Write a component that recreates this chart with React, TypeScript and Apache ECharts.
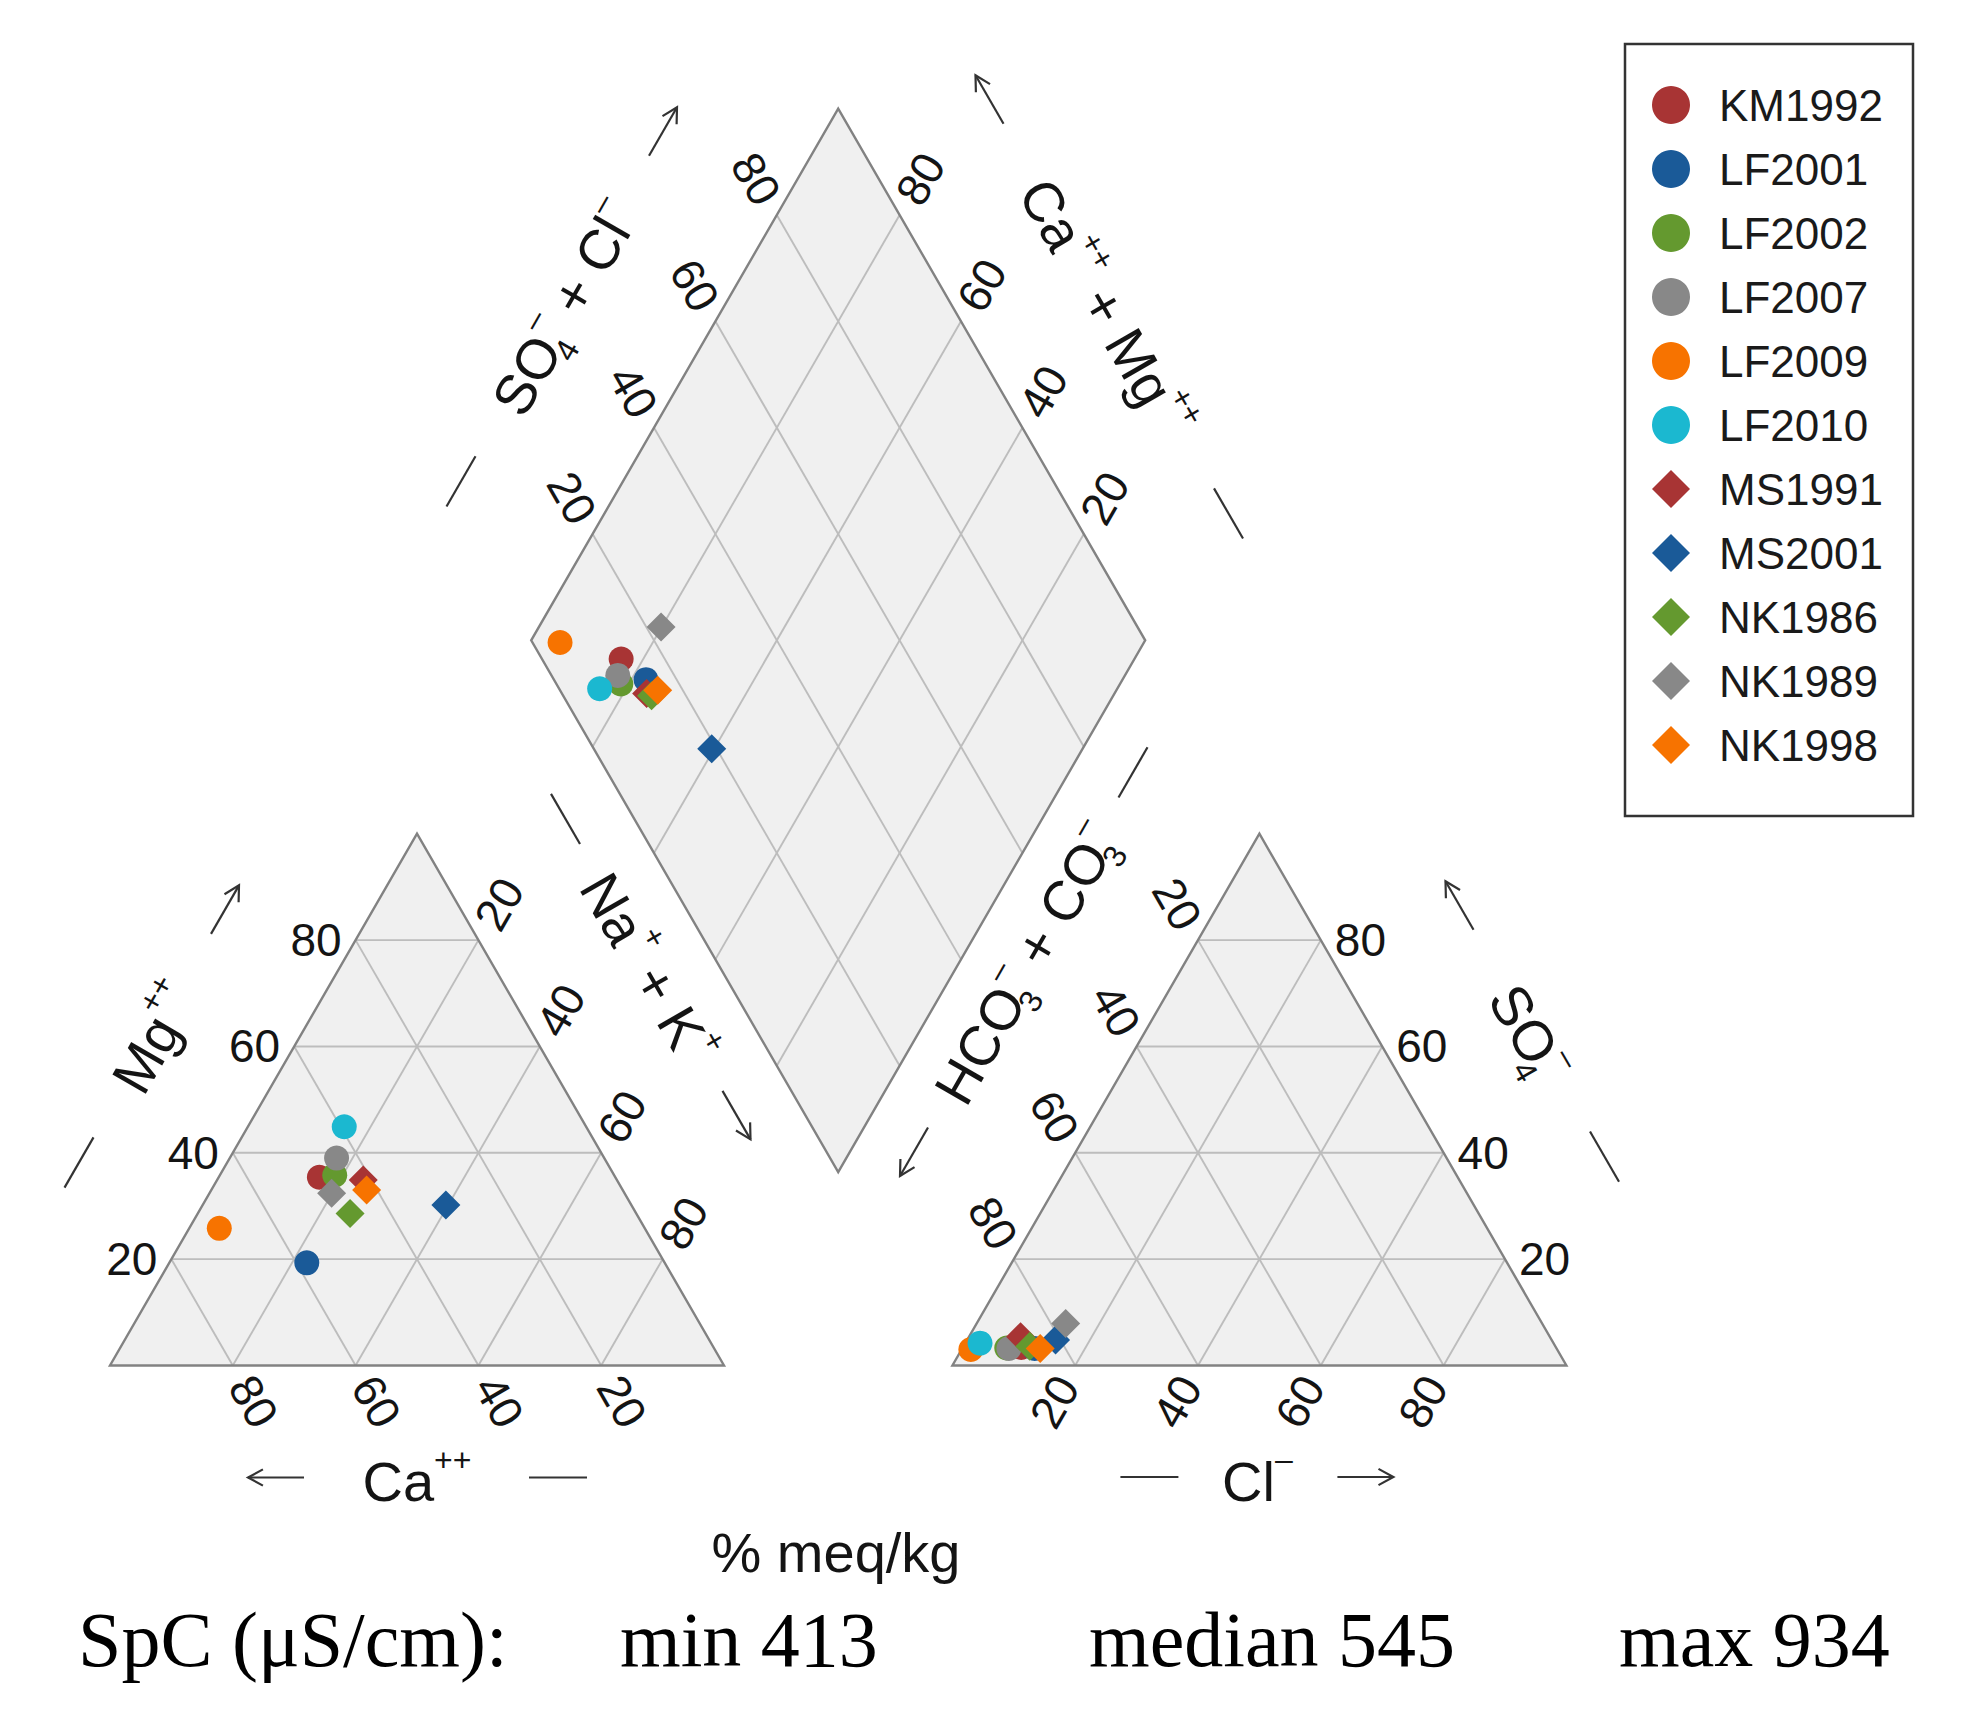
import React, { useEffect, useRef } from "react";
import * as echarts from "echarts";

// ---------- data (% meq/kg) ----------
const SAMPLES = ["KM1992", "LF2001", "LF2002", "LF2007", "LF2009", "LF2010", "MS1991", "MS2001", "NK1986", "NK1989", "NK1998"];
const SYMBOLS = ["circle", "circle", "circle", "circle", "circle", "circle", "diamond", "diamond", "diamond", "diamond", "diamond"];
const COLORS = ["#A83434", "#1A5A98", "#64992F", "#888888", "#F77300", "#1BB8D0", "#A83434", "#1A5A98", "#64992F", "#888888", "#F77300"];
// cations
const CA = [48.2, 58.3, 45.5, 43.6, 69.3, 39.4, 41.3, 30.2, 46.6, 47.7, 41.7];
const MG = [35.4, 19.3, 35.8, 39.0, 25.8, 44.9, 34.9, 30.2, 28.6, 32.4, 33.0];
const NAK = [16.4, 22.4, 18.7, 17.4, 4.9, 15.7, 23.8, 39.6, 24.8, 19.9, 25.3];
// anions
const HCO3 = [87.1, 85.0, 89.5, 89.2, 95.5, 93.4, 86.2, 80.8, 85.6, 77.6, 84.1];
const SO4 = [3.4, 3.2, 3.3, 3.2, 3.0, 4.2, 5.4, 4.8, 3.6, 7.9, 3.2];
const CL = [9.5, 11.8, 7.2, 7.6, 1.5, 2.4, 8.4, 14.4, 10.8, 14.5, 12.7];

const TICKS = [20, 40, 60, 80];
const TICK_LABELS = ["20", "40", "60", "80"];
const SPC_TEXT = ["SpC (\u03bcS/cm):", "min 413", "median 545", "max 934"];

// ---------- layout (diagram units, triangle side = 100) ----------
const S3 = Math.sqrt(3) / 2;
const OX = 137.2; // x offset of anion triangle
const BX = 118.6; // diamond bottom vertex
const BY = 31.5;

const SANS = '"Liberation Sans", Arial, Helvetica, sans-serif';
const SERIF = '"Liberation Serif", "Times New Roman", serif';
const INK = "#141414";
const FILL = "#F0F0F0";
const GRID = "#BDBDBD";
const EDGE = "#828282";

function cat(ca: number, mg: number, na: number): number[] {
  const t = ca + mg + na;
  return [(100 * na) / t + (50 * mg) / t, (100 * mg * S3) / t];
}
function ani(h: number, s: number, c: number): number[] {
  const t = h + s + c;
  return [OX + (100 * c) / t + (50 * s) / t, (100 * s * S3) / t];
}
function dia(camg: number, a: number): number[] {
  return [BX + 0.5 * (a - camg), BY + S3 * (a + camg)];
}

const R60 = Math.PI / 3;

const RICH: any = {
  n: { fontSize: 56, fontFamily: SANS, lineHeight: 76, fill: INK },
  p: { fontSize: 32, fontFamily: SANS, lineHeight: 32, verticalAlign: "top", fill: INK },
  bs: { fontSize: 32, fontFamily: SANS, lineHeight: 32, verticalAlign: "bottom", fill: INK, width: 2 },
};

function renderFrame(params: any, api: any) {
  const P = (xy: number[]) => api.coord(xy);
  const children: any[] = [];
  const line = (a: number[], b: number[], stroke: string, lw: number) => {
    const p = P(a);
    const q = P(b);
    children.push({ type: "line", shape: { x1: p[0], y1: p[1], x2: q[0], y2: q[1] }, style: { stroke, lineWidth: lw } });
  };
  const shapes = [
    [cat(100, 0, 0), cat(0, 0, 100), cat(0, 100, 0)],
    [ani(100, 0, 0), ani(0, 0, 100), ani(0, 100, 0)],
    [dia(0, 0), dia(0, 100), dia(100, 100), dia(100, 0)],
  ];
  shapes.forEach((s) => children.push({ type: "polygon", shape: { points: s.map(P) }, style: { fill: FILL } }));
  const gw = 1.9;
  TICKS.forEach((k) => {
    line(cat(100 - k, k, 0), cat(0, k, 100 - k), GRID, gw);
    line(cat(100 - k, 0, k), cat(0, 100 - k, k), GRID, gw);
    line(cat(k, 0, 100 - k), cat(k, 100 - k, 0), GRID, gw);
    line(ani(100 - k, k, 0), ani(0, k, 100 - k), GRID, gw);
    line(ani(100 - k, 0, k), ani(0, 100 - k, k), GRID, gw);
    line(ani(k, 0, 100 - k), ani(k, 100 - k, 0), GRID, gw);
    line(dia(k, 0), dia(k, 100), GRID, gw);
    line(dia(0, k), dia(100, k), GRID, gw);
  });
  shapes.forEach((s) =>
    children.push({ type: "polygon", shape: { points: s.map(P) }, style: { fill: "none", stroke: EDGE, lineWidth: 2.4 } })
  );

  // tick labels
  const D = 16;
  const UR = [0.5 * D, -S3 * D];
  const DR = [0.5 * D, S3 * D];
  const UL = [-0.5 * D, -S3 * D];
  const DL = [-0.5 * D, S3 * D];
  const label = (pt: number[], str: string, rot: number, align: string, off: number[]) => {
    children.push({
      type: "text",
      x: pt[0] + off[0],
      y: pt[1] + off[1],
      rotation: rot,
      style: { text: str, fill: INK, fontSize: 46, fontFamily: SANS, align, verticalAlign: "middle" },
    });
  };
  TICKS.forEach((k, i) => {
    const s = TICK_LABELS[i];
    label(P(cat(100 - k, k, 0)), s, 0, "right", [-14, 0]); // Mg
    label(P(cat(0, 100 - k, k)), s, R60, "left", UR); // Na+K
    label(P(cat(k, 0, 100 - k)), s, -R60, "left", DR); // Ca
    label(P(ani(100 - k, 0, k)), s, R60, "right", DL); // Cl
    label(P(ani(0, k, 100 - k)), s, 0, "left", [14, 0]); // SO4
    label(P(ani(k, 100 - k, 0)), s, -R60, "right", UL); // HCO3
    label(P(dia(100, k)), s, -R60, "right", UL); // SO4 + Cl
    label(P(dia(k, 100)), s, R60, "left", UR); // Ca + Mg
  });

  // axis titles with dash and arrow
  const title = (pt: number[], off: number[], rot: number, text: string, dashX: number, arrowX: number, dir: number) => {
    const h = 28;
    const ax0 = arrowX - dir * h;
    const ax1 = arrowX + dir * h;
    const hl = 17;
    const hx = ax1 - dir * hl * Math.cos(0.5);
    const hy = hl * Math.sin(0.5);
    const st = { stroke: "#333", lineWidth: 2.2, fill: "none" };
    children.push({
      type: "group",
      x: pt[0] + off[0],
      y: pt[1] + off[1],
      rotation: rot,
      children: [
        { type: "text", x: 0, y: 4, style: { text, rich: RICH, align: "center", verticalAlign: "middle", fill: INK, fontSize: 56, fontFamily: SANS } },
        { type: "line", shape: { x1: dashX - 29, y1: 0, x2: dashX + 29, y2: 0 }, style: st },
        { type: "line", shape: { x1: ax0, y1: 0, x2: ax1, y2: 0 }, style: st },
        { type: "polyline", shape: { points: [[hx, -hy], [ax1, 0], [hx, hy]] }, style: st },
      ],
    });
  };
  title(P(cat(50, 0, 50)), [0, 112], 0, "{n|Ca}{p|++}", 141, -141, -1);
  title(P(cat(50, 50, 0)), [-111.5, -63.6], R60, "{n|Mg}{p|++}", -146, 146, 1);
  title(P(cat(0, 50, 50)), [80.5, -132.6], -R60, "{n|Na}{p|+}{n| + K}{p|+}", -171, 171, 1);
  title(P(ani(50, 50, 0)), [-82.4, -137.6], R60, "{n|HCO}{bs|3}{p|\u2013}{n| + CO}{bs|3}{p|\u2013}", 219, -219, -1);
  title(P(ani(0, 50, 50)), [119.1, -68.6], -R60, "{n|SO}{bs|4}{p|\u2013}", 145, -145, -1);
  title(P(ani(50, 0, 50)), [-2, 111.5], 0, "{n|Cl}{p|\u2013}", -108, 108, 1);
  title(P(dia(100, 50)), [-122.7, -68], R60, "{n|SO}{bs|4}{p|\u2013}{n| + Cl}{p|\u2013}", -202, 202, 1);
  title(P(dia(50, 100)), [117.3, -68], -R60, "{n|Ca}{p|++}{n| + Mg}{p|++}", 239, -239, -1);

  return { type: "group", children };
}

export default function App() {
  const ref = useRef<HTMLDivElement>(null);
  useEffect(() => {
    if (!ref.current) return;
    const chart = echarts.init(ref.current, null, { renderer: "svg" });
    const scatter = SAMPLES.map((name, i) => {
      const cm = CA[i] + MG[i];
      const ct = cm + NAK[i];
      const an = SO4[i] + CL[i];
      const at = an + HCO3[i];
      return {
        name,
        type: "scatter",
        symbol: SYMBOLS[i],
        symbolSize: SYMBOLS[i] === "circle" ? 25 : 29,
        z: 3,
        silent: true,
        itemStyle: { color: COLORS[i], opacity: 1 },
        data: [cat(CA[i], MG[i], NAK[i]), ani(HCO3[i], SO4[i], CL[i]), dia((100 * cm) / ct, (100 * an) / at)],
      };
    });
    const option: any = {
      animation: false,
      backgroundColor: "#ffffff",
      grid: { left: 110, top: 14.7, width: 1473.6, height: 1350.8, containLabel: false },
      xAxis: { type: "value", min: 0, max: 240, show: false },
      yAxis: { type: "value", min: 0, max: 220, show: false },
      legend: {
        orient: "vertical",
        left: 1652,
        top: 83,
        padding: 0,
        itemGap: 20,
        itemWidth: 38,
        itemHeight: 38,
        selectedMode: false,
        data: SAMPLES.map((n, i) => ({ name: n, icon: SYMBOLS[i] })),
        textStyle: { fontSize: 44, fontFamily: SANS, color: "#1a1a1a", lineHeight: 44, padding: [0, 0, 0, 24] },
      },
      graphic: [
        { type: "rect", shape: { x: 1625, y: 44, width: 288, height: 772 }, style: { fill: "none", stroke: "#333", lineWidth: 2.5 } },
        {
          type: "text", x: 836, y: 1552,
          style: { text: "% meq/kg", fill: INK, font: `56px ${SANS}`, align: "center", textAlign: "center", verticalAlign: "middle", textVerticalAlign: "middle" },
        },
        ...[78, 620, 1089, 1619].map((x, i) => ({
          type: "text", x, y: 1639,
          style: { text: SPC_TEXT[i], fill: "#000", font: `78px ${SERIF}`, align: "left", textAlign: "left", verticalAlign: "middle", textVerticalAlign: "middle" },
        })),
      ],
      series: [
        { type: "custom", renderItem: renderFrame, data: [[0, 0]], z: 1, silent: true, clip: false },
        ...scatter,
      ],
    };
    chart.setOption(option);
    return () => chart.dispose();
  }, []);
  return <div ref={ref} style={{ position: "absolute", left: 0, top: 0, width: 1963, height: 1717, background: "#fff" }} />;
}
